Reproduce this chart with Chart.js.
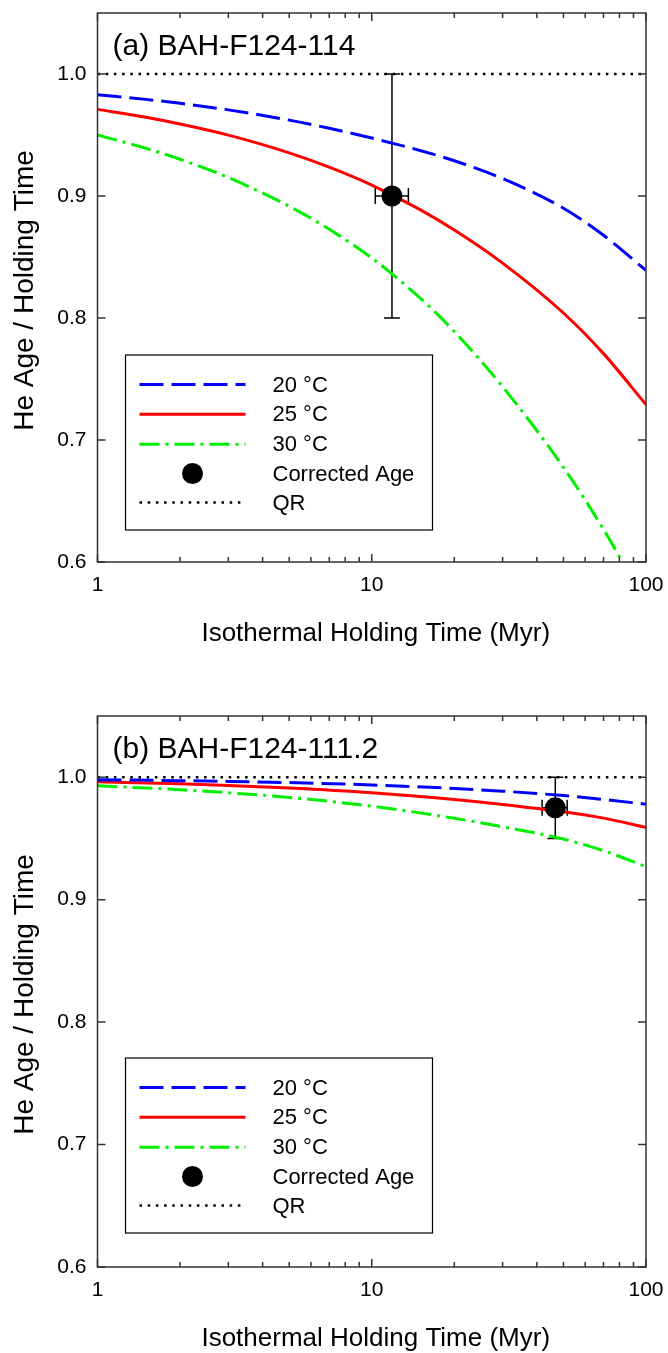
<!DOCTYPE html>
<html><head><meta charset="utf-8">
<script src="https://cdn.jsdelivr.net/npm/chart.js@4.4.1/dist/chart.umd.min.js"></script>
<style>
html,body{margin:0;padding:0;background:#fff;width:668px;height:1353px;overflow:hidden;}
.wrap{position:absolute;left:0;width:668px;}
#wa{top:0;height:676px;}
#wb{top:703px;height:650px;}
canvas{display:block;}
</style></head><body>
<div class="wrap" id="wa"><canvas id="ca" width="668" height="676"></canvas></div>
<div class="wrap" id="wb"><canvas id="cb" width="668" height="650"></canvas></div>
<script>
// ---------- data ----------
const xMajorTicks = [1, 10, 100];
const xMajorLabels = ['1', '10', '100'];
const xMinorTicks = [2, 3, 4, 5, 6, 7, 8, 9, 20, 30, 40, 50, 60, 70, 80, 90];
const yTickValues = [0.6, 0.7, 0.8, 0.9, 1.0];
const yTickLabels = ['0.6', '0.7', '0.8', '0.9', '1.0'];
const seriesLabels = ['20 °C', '25 °C', '30 °C', 'Corrected Age', 'QR'];
const panelTitles = ['(a) BAH-F124-114', '(b) BAH-F124-111.2'];
const xAxisTitle = 'Isothermal Holding Time (Myr)';
const yAxisTitle = 'He Age / Holding Time';

// panel (a)
const timeA    = [1, 1.5, 2, 3, 5, 7, 10, 15, 20, 30, 50, 70, 100];
const ratioA20 = [0.983, 0.9792, 0.9760, 0.9706, 0.9622, 0.9555, 0.9475, 0.9373, 0.9289, 0.9143, 0.890, 0.8678, 0.839];
const ratioA25 = [0.971, 0.9645, 0.9590, 0.9499, 0.9354, 0.9236, 0.9089, 0.8888, 0.8721, 0.845, 0.8041, 0.7708, 0.729];
const timeA30  = [1, 1.5, 2, 3, 5, 7, 10, 15, 20, 30, 50, 70, 82];
const ratioA30 = [0.950, 0.9391, 0.9301, 0.9151, 0.8916, 0.8727, 0.8492, 0.8164, 0.7889, 0.7437, 0.6776, 0.6268, 0.600];
const ageA     = [11.85, 0.900];
const ageAxErr = [10.3, 13.6];
const ageAyErr = [0.80, 1.00];

// panel (b)
const timeB    = [1, 2, 3, 5, 10, 20, 30, 50, 70, 100];
const ratioB20 = [0.998, 0.9972, 0.9966, 0.9956, 0.9937, 0.9908, 0.9886, 0.985, 0.9818, 0.978];
const ratioB25 = [0.9962, 0.9946, 0.9933, 0.9912, 0.9873, 0.9818, 0.9778, 0.9718, 0.9666, 0.959];
const ratioB30 = [0.993, 0.9898, 0.9873, 0.9835, 0.9763, 0.9665, 0.9595, 0.9495, 0.940, 0.927];
const ageB     = [46.7, 0.975];
const ageBxErr = [41.8, 51.6];
const ageByErr = [0.95, 1.00];

const qrTime  = [1, 100];
const qrRatio = [1.0, 1.0];

// ---------- helpers ----------
const FONT = '"Liberation Sans", Arial, Helvetica, sans-serif';
const pts = (xs, ys) => xs.map((x, i) => ({x: x, y: ys[i]}));

const frameTicksPlugin = {
  id: 'frameTicks',
  afterDatasetsDraw(chart) {
    const {ctx, chartArea: a, scales: {x, y}} = chart;
    ctx.save();
    ctx.strokeStyle = '#333';
    ctx.lineWidth = 1.5;
    ctx.setLineDash([]);
    ctx.strokeRect(a.left, a.top, a.right - a.left, a.bottom - a.top);
    ctx.beginPath();
    const xt = (v, len) => {
      const px = x.getPixelForValue(v);
      ctx.moveTo(px, a.bottom); ctx.lineTo(px, a.bottom - len);
      ctx.moveTo(px, a.top); ctx.lineTo(px, a.top + len);
    };
    xMajorTicks.forEach(v => xt(v, 8));
    xMinorTicks.forEach(v => xt(v, 5));
    yTickValues.forEach(v => {
      const py = y.getPixelForValue(v);
      ctx.moveTo(a.left, py); ctx.lineTo(a.left + 8, py);
      ctx.moveTo(a.right, py); ctx.lineTo(a.right - 8, py);
    });
    ctx.stroke();
    ctx.restore();
  }
};

const errorBarPlugin = {
  id: 'errorBars',
  beforeDatasetsDraw(chart, args, opts) {
    const {ctx, scales: {x, y}} = chart;
    const e = opts.bar;
    if (!e) return;
    const cx = x.getPixelForValue(e.x), cy = y.getPixelForValue(e.y);
    const x0 = x.getPixelForValue(e.xLow), x1 = x.getPixelForValue(e.xHigh);
    const y0 = y.getPixelForValue(e.yLow), y1 = y.getPixelForValue(e.yHigh);
    const cap = 8;
    ctx.save();
    ctx.strokeStyle = '#000';
    ctx.lineWidth = 1.5;
    ctx.setLineDash([]);
    ctx.beginPath();
    ctx.moveTo(cx, y0); ctx.lineTo(cx, y1);
    ctx.moveTo(cx - cap, y0); ctx.lineTo(cx + cap, y0);
    ctx.moveTo(cx - cap, y1); ctx.lineTo(cx + cap, y1);
    ctx.moveTo(x0, cy); ctx.lineTo(x1, cy);
    ctx.moveTo(x0, cy - cap); ctx.lineTo(x0, cy + cap);
    ctx.moveTo(x1, cy - cap); ctx.lineTo(x1, cy + cap);
    ctx.stroke();
    ctx.restore();
  }
};

const textLegendPlugin = {
  id: 'textLegend',
  afterDraw(chart, args, opts) {
    const {ctx, chartArea: a} = chart;
    ctx.save();
    ctx.fillStyle = '#000';
    // panel title
    ctx.font = '30px ' + FONT;
    ctx.textAlign = 'left';
    ctx.textBaseline = 'alphabetic';
    ctx.fillText(opts.title, a.left + 15, a.top + 42);
    // x axis title
    ctx.font = '26px ' + FONT;
    ctx.textAlign = 'center';
    ctx.fillText(xAxisTitle, (a.left + a.right) / 2 + 4, a.bottom + 79);
    // y axis title
    ctx.font = '28px ' + FONT;
    ctx.save();
    ctx.translate(33, (a.top + a.bottom) / 2 + 3);
    ctx.rotate(-Math.PI / 2);
    ctx.fillText(yAxisTitle, 0, 0);
    ctx.restore();
    // legend box
    const bx = a.left + 28, by = a.top + 342, bw = 307, bh = 175;
    ctx.fillStyle = '#fff';
    ctx.fillRect(bx, by, bw, bh);
    ctx.strokeStyle = '#000';
    ctx.lineWidth = 1.2;
    ctx.setLineDash([]);
    ctx.strokeRect(bx, by, bw, bh);
    const rows = [29.5, 59.3, 89.2, 118.5, 147.5];
    const lx0 = bx + 14, lx1 = bx + 120, tx = bx + 147;
    ctx.font = '22px ' + FONT;
    ctx.textAlign = 'left';
    ctx.textBaseline = 'middle';
    seriesLabels.forEach((lab, i) => {
      const ds = chart.data.datasets.find(d => d.label === lab);
      const ry = by + rows[i];
      if (ds.showLine === false) {
        ctx.fillStyle = ds.backgroundColor;
        ctx.beginPath();
        ctx.arc((lx0 + lx1) / 2, ry, ds.pointRadius, 0, Math.PI * 2);
        ctx.fill();
      } else {
        ctx.strokeStyle = ds.borderColor;
        ctx.lineWidth = ds.borderWidth;
        ctx.setLineDash(ds.borderDash || []);
        ctx.beginPath();
        ctx.moveTo(lx0, ry); ctx.lineTo(lx1, ry);
        ctx.stroke();
        ctx.setLineDash([]);
      }
      ctx.fillStyle = '#000';
      ctx.fillText(lab, tx, ry + 1);
    });
    ctx.restore();
  }
};

function makePanel(canvasId, cfg) {
  const lineDs = (label, data, color, dash, width) => ({
    label: label, data: data, borderColor: color, backgroundColor: color,
    borderWidth: width, borderDash: dash, pointRadius: 0, fill: false,
    cubicInterpolationMode: 'monotone', order: 1
  });
  return new Chart(document.getElementById(canvasId), {
    type: 'line',
    data: {
      datasets: [
        lineDs(seriesLabels[0], cfg.s20, '#0000ff', [24, 8], 3),
        lineDs(seriesLabels[1], cfg.s25, '#ff0000', [], 3),
        lineDs(seriesLabels[2], cfg.s30, '#00f000', [20, 6, 3, 6], 3),
        { label: seriesLabels[3], data: [{x: cfg.age[0], y: cfg.age[1]}], showLine: false,
          pointRadius: 10.5, pointBackgroundColor: '#000', pointBorderWidth: 0,
          backgroundColor: '#000', borderColor: '#000', order: 0 },
        lineDs(seriesLabels[4], pts(qrTime, qrRatio), '#000', [2.5, 5.7], 2.5)
      ]
    },
    options: {
      responsive: false,
      animation: false,
      layout: {padding: {left: 0, right: 22, top: 13, bottom: 0}},
      plugins: {
        legend: {display: false},
        tooltip: {enabled: false},
        errorBars: {bar: cfg.bar},
        textLegend: {title: cfg.title}
      },
      scales: {
        x: {
          type: 'logarithmic', position: 'bottom', min: 1, max: 100,
          afterBuildTicks: s => { s.ticks = xMajorTicks.map(v => ({value: v})); },
          afterFit: s => { s.height = cfg.xh; s.paddingLeft = 0; s.paddingRight = 0; },
          ticks: {callback: (v, i) => xMajorLabels[i], font: {family: FONT, size: 21},
                  color: '#000', padding: 11, maxRotation: 0, autoSkip: false},
          grid: {display: false, drawTicks: false},
          border: {display: false}
        },
        y: {
          type: 'linear', min: 0.6, max: 1.05,
          afterBuildTicks: s => { s.ticks = yTickValues.map(v => ({value: v})); },
          afterFit: s => { s.width = 97.5; s.paddingTop = 0; s.paddingBottom = 0; },
          ticks: {callback: (v, i) => yTickLabels[i], font: {family: FONT, size: 21},
                  color: '#000', padding: 11},
          grid: {display: false, drawTicks: false},
          border: {display: false}
        }
      }
    },
    plugins: [errorBarPlugin, frameTicksPlugin, textLegendPlugin]
  });
}

makePanel('ca', {
  title: panelTitles[0], xh: 114,
  s20: pts(timeA, ratioA20), s25: pts(timeA, ratioA25), s30: pts(timeA30, ratioA30),
  age: ageA,
  bar: {x: ageA[0], y: ageA[1], xLow: ageAxErr[0], xHigh: ageAxErr[1], yLow: ageAyErr[0], yHigh: ageAyErr[1]}
});
makePanel('cb', {
  title: panelTitles[1], xh: 86,
  s20: pts(timeB, ratioB20), s25: pts(timeB, ratioB25), s30: pts(timeB, ratioB30),
  age: ageB,
  bar: {x: ageB[0], y: ageB[1], xLow: ageBxErr[0], xHigh: ageBxErr[1], yLow: ageByErr[0], yHigh: ageByErr[1]}
});
</script>
</body></html>
